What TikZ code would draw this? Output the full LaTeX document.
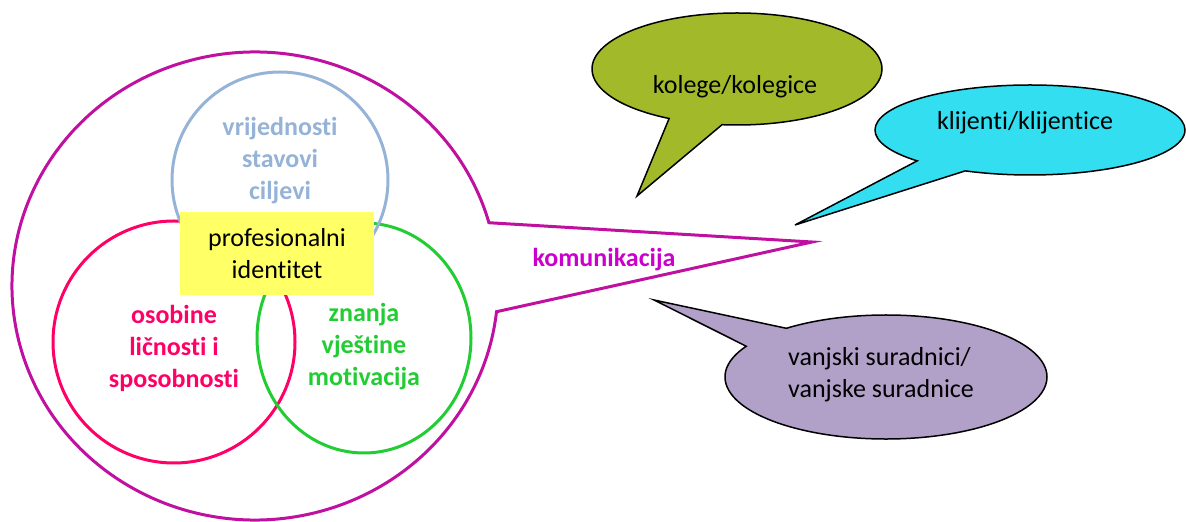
\documentclass[tikz,border=0pt]{standalone}
\usepackage{fontspec}
\setmainfont{Carlito}[Ligatures={NoCommon}]
\usetikzlibrary{shapes.callouts, shapes.geometric}

\definecolor{magentarub}{RGB}{192,16,160}
\definecolor{magentatxt}{RGB}{204,0,204}
\definecolor{plava}{RGB}{149,179,215}
\definecolor{crvena}{RGB}{255,0,102}
\definecolor{zelena}{RGB}{34,204,51}
\definecolor{zuta}{RGB}{255,255,102}
\definecolor{maslinasta}{RGB}{162,185,42}
\definecolor{tirkizna}{RGB}{50,222,240}
\definecolor{lila}{RGB}{177,160,199}

\begin{document}
\begin{tikzpicture}
  [
   x=1pt, y=1pt,
   oblak/.style={ellipse callout, draw=black, line width=1.5pt, callout pointer arc=22},
   krug/.style={draw, line width=3pt, inner sep=0pt},
   tekst/.style={font=\fontsize{26}{32}\selectfont, align=center, inner sep=0pt},
   podebljano/.style={tekst, font=\fontsize{26}{32}\selectfont\bfseries}
  ]
  \useasboundingbox (0,0) rectangle (1186,522);

  % veliki krug s repom prema sugovornicima
  \node[oblak, draw=magentarub, line width=3pt, minimum width=486pt, minimum height=468pt,
        callout absolute pointer={(812,280)}] (komunikacija) at (255,236) {};

  % tri kruga
  \node[krug, circle, draw=crvena, minimum size=242pt] (osobine) at (174,180) {};
  \node[krug, ellipse, draw=zelena, minimum width=214pt, minimum height=230pt] (znanja) at (364,184) {};
  \node[krug, circle, draw=plava, minimum size=216pt] (vrijednosti) at (280,342) {};

  \node[tekst, fill=zuta, minimum width=194pt, minimum height=83pt] (identitet) at (277,268) {profesionalni\\identitet};

  \node[podebljano, text=plava] (vrijednostiTxt) at (280,361) {vrijednosti\\stavovi\\ciljevi};
  \node[podebljano, text=crvena] (osobineTxt) at (174,174) {osobine\\ličnosti i\\sposobnosti};
  \node[podebljano, text=zelena] (znanjaTxt) at (364,175) {znanja\\vještine\\motivacija};
  \node[podebljano, text=magentatxt] (komunikacijaTxt) at (604,262) {komunikacija};

  % oblacici
  \node[oblak, fill=maslinasta, minimum width=290pt, minimum height=112pt,
        callout absolute pointer={(637,326)}] (kolege) at (737,453) {};
  \node[tekst] (kolegeTxt) at (735,435) {kolege/kolegice};

  \node[oblak, fill=tirkizna, minimum width=310pt, minimum height=90pt,
        callout absolute pointer={(795,297)}] (klijenti) at (1030,392) {};
  \node[tekst] (klijentiTxt) at (1025,399) {klijenti/klijentice};

  \node[oblak, fill=lila, minimum width=322pt, minimum height=124pt,
        callout absolute pointer={(654,222)}] (suradnici) at (886,145) {};
  \node[tekst, align=left, anchor=west] (suradniciTxt) at (788,147) {vanjski suradnici/\\vanjske suradnice};
\end{tikzpicture}
\end{document}
